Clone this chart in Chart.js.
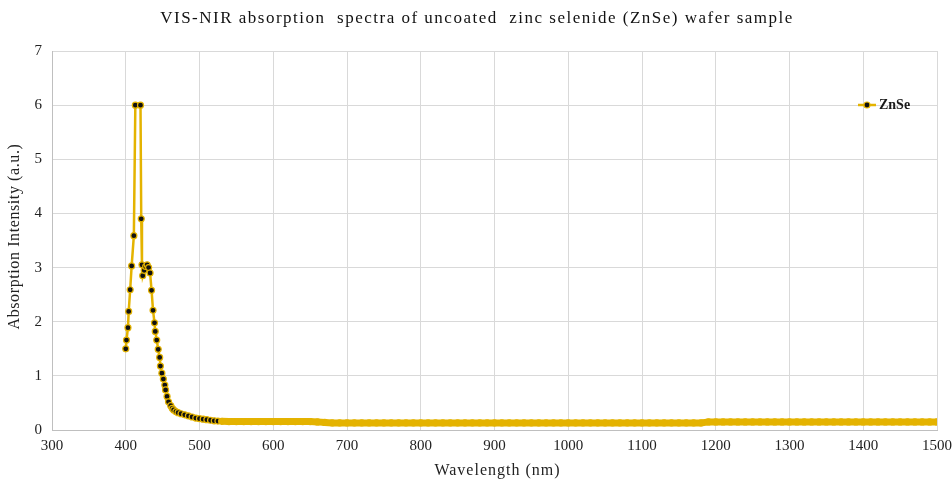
<!DOCTYPE html>
<html>
<head>
<meta charset="utf-8">
<script src="https://cdn.jsdelivr.net/npm/chart.js@4"></script>
<style>
html,body{margin:0;padding:0;background:#fff;}
#wrap{width:952px;height:482px;}
</style>
</head>
<body>
<div id="wrap"><canvas id="c" width="952" height="482"></canvas></div>
<script>
const chartTitle = "VIS-NIR absorption  spectra of uncoated  zinc selenide (ZnSe) wafer sample";
const xTitle = "Wavelength (nm)";
const yTitle = "Absorption Intensity (a.u.)";
const seriesName = "ZnSe";

const wavelength = [
  400,401,403,404,406,408,411,413,420,421,422,423,425,427,429,431,433,435,437,439,
  440,442,444,446,447,449,451,453,454,456,458,461,463,465,468,471,475,480,485,490,
  495,500,505,510,515,520,525,530,540,550,560,570,580,590,600,610,620,630,640,650,
  660,670,680,690,700,710,720,730,740,750,760,770,780,790,800,810,820,830,840,850,
  860,870,880,890,900,910,920,930,940,950,960,970,980,990,1000,1010,1020,1030,1040,1050,
  1060,1070,1080,1090,1100,1110,1120,1130,1140,1150,1160,1170,1180,1190,1200,1210,1220,1230,1240,1250,
  1260,1270,1280,1290,1300,1310,1320,1330,1340,1350,1360,1370,1380,1390,1400,1410,1420,1430,1440,1450,
  1460,1470,1480,1490,1500
];
const absorbance = [
  1.50,1.66,1.89,2.19,2.59,3.03,3.59,6.00,6.00,3.90,3.05,2.85,2.95,3.02,3.05,3.00,2.90,2.58,2.21,1.98,
  1.82,1.66,1.49,1.34,1.18,1.05,0.94,0.83,0.74,0.62,0.52,0.45,0.40,0.37,0.34,0.32,0.30,0.28,0.26,0.24,
  0.22,0.21,0.20,0.19,0.18,0.17,0.165,0.16,0.155,0.155,0.155,0.155,0.155,0.155,0.155,0.155,0.155,0.155,0.155,0.155,
  0.15,0.14,0.13,0.13,0.13,0.13,0.13,0.13,0.13,0.13,0.13,0.13,0.13,0.13,0.13,0.13,0.13,0.13,0.13,0.13,
  0.13,0.13,0.13,0.13,0.13,0.13,0.13,0.13,0.13,0.13,0.13,0.13,0.13,0.13,0.13,0.13,0.13,0.13,0.13,0.13,
  0.13,0.13,0.13,0.13,0.13,0.13,0.13,0.13,0.13,0.13,0.13,0.13,0.13,0.15,0.15,0.15,0.15,0.15,0.15,0.15,
  0.15,0.15,0.15,0.15,0.15,0.15,0.15,0.15,0.15,0.15,0.15,0.15,0.15,0.15,0.15,0.15,0.15,0.15,0.15,0.15,
  0.15,0.15,0.15,0.15,0.15
];
const xTicks = [300,400,500,600,700,800,900,1000,1100,1200,1300,1400,1500];
const yTicks = [0,1,2,3,4,5,6,7];

const GOLD = '#e4b300';
const FONT = '"Liberation Serif", "Times New Roman", serif';
const TAIL_START = 530;

const points = wavelength.map((w, i) => ({x: w, y: absorbance[i]}));

const textPlugin = {
  id: 'texts',
  afterDraw(chart) {
    const ctx = chart.ctx;
    const a = chart.chartArea;
    const ds = chart.data.datasets[0];
    ctx.save();
    ctx.fillStyle = '#111';
    ctx.textAlign = 'center';
    ctx.textBaseline = 'middle';
    ctx.font = '17px ' + FONT;
    ctx.letterSpacing = '1.5px';
    ctx.fillText(chartTitle, 477, 19);
    ctx.font = '16px ' + FONT;
    ctx.letterSpacing = '1px';
    ctx.fillStyle = '#222';
    ctx.fillText(xTitle, (a.left + a.right) / 2 + 3, 471);
    ctx.save();
    ctx.translate(15, (a.top + a.bottom) / 2 - 4);
    ctx.rotate(-Math.PI / 2);
    ctx.letterSpacing = '0.6px';
    ctx.fillText(yTitle, 0, 0);
    ctx.restore();
    ctx.letterSpacing = '0px';
    const x0 = 858, y0 = 105;
    ctx.strokeStyle = GOLD;
    ctx.lineWidth = 2.5;
    ctx.beginPath(); ctx.moveTo(x0, y0); ctx.lineTo(x0 + 18, y0); ctx.stroke();
    ctx.beginPath(); ctx.arc(x0 + 9, y0, 3, 0, Math.PI * 2);
    ctx.fillStyle = '#111'; ctx.fill();
    ctx.lineWidth = 1.2; ctx.stroke();
    ctx.fillStyle = '#1a1a1a';
    ctx.font = 'bold 14px ' + FONT;
    ctx.textAlign = 'left';
    ctx.fillText(ds.label, x0 + 21, y0 + 0.5);
    ctx.restore();
  }
};

new Chart(document.getElementById('c'), {
  type: 'line',
  data: {
    datasets: [{
      label: seriesName,
      data: points,
      borderColor: GOLD,
      borderWidth: 2.5,
      tension: 0,
      segment: {
        borderWidth: (c) => (c.p0.parsed.x >= TAIL_START ? 7 : 2.5)
      },
      pointRadius: 3,
      pointBorderWidth: 1.2,
      pointBorderColor: GOLD,
      pointBackgroundColor: (c) => (c.raw && c.raw.x < TAIL_START) ? '#111' : GOLD
    }]
  },
  options: {
    responsive: false,
    animation: false,
    devicePixelRatio: 1,
    layout: {padding: {left: 30, right: 15, top: 51, bottom: 30}},
    plugins: {
      legend: {display: false},
      tooltip: {enabled: false},
      title: {display: false}
    },
    scales: {
      x: {
        type: 'linear',
        min: 300, max: 1500,
        afterBuildTicks: (s) => { s.ticks = xTicks.map(v => ({value: v})); },
        afterFit: (s) => { s.height = 22; s.paddingRight = 15; s.paddingLeft = 0; },
        ticks: {color: '#222', font: {family: FONT, size: 15}, padding: 7, maxRotation: 0,
                callback: (v) => String(v)},
        grid: {color: '#d9d9d9', lineWidth: 1, drawTicks: false},
        border: {color: '#bfbfbf'}
      },
      y: {
        min: 0, max: 7,
        afterBuildTicks: (s) => { s.ticks = yTicks.map(v => ({value: v})); },
        afterFit: (s) => { s.width = 22; },
        ticks: {color: '#222', font: {family: FONT, size: 15}, padding: 10,
                callback: (v) => String(v)},
        grid: {color: '#d9d9d9', lineWidth: 1, drawTicks: false},
        border: {color: '#bfbfbf'}
      }
    }
  },
  plugins: [textPlugin]
});
</script>
</body>
</html>
